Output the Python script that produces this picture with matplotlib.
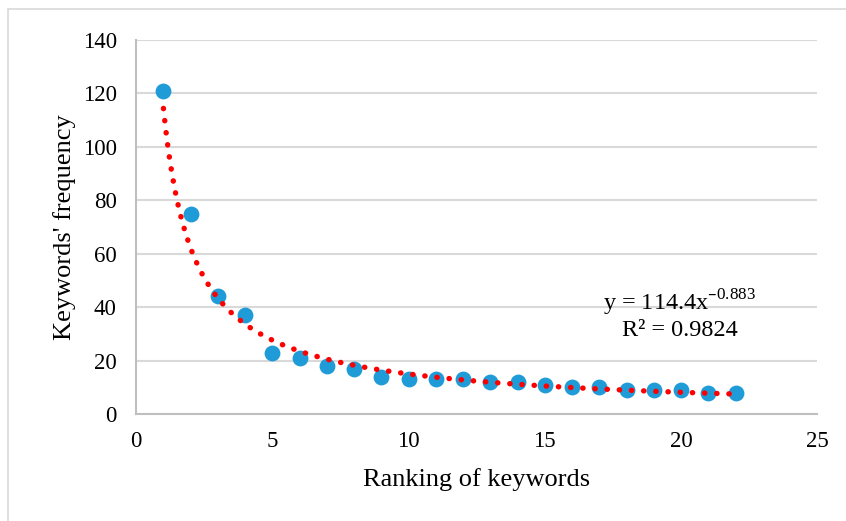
import numpy as np
import matplotlib
matplotlib.use('Agg')
import matplotlib.pyplot as plt
from matplotlib.patches import Rectangle

plt.rcParams['font.family'] = ['Liberation Serif', 'DejaVu Serif']

# 关键词排名与频次
ranking = [1, 2, 3, 4, 5, 6, 7, 8, 9, 10, 11, 12, 13, 14, 15, 16, 17, 18, 19, 20, 21, 22]
frequency = [121, 75, 44, 37, 23, 21, 18, 17, 14, 13, 13, 13, 12, 12, 11, 10, 10, 9, 9, 9, 8, 8]

# 幂函数趋势线 y = a * x^b
fit_a = 114.4
fit_b = -0.883
fit_r2 = 0.9824

fig = plt.figure(figsize=(8.46, 5.21), dpi=100)
ax = fig.add_axes([0.161, 0.2054, 0.805, 0.7178])

# 图表外框
fig.patches.append(Rectangle((8 / 846, -0.1), 1.2, 1 - 9 / 521 + 0.1, transform=fig.transFigure,
                             fill=False, edgecolor='#d9d9d9', linewidth=1.2))

ax.scatter(ranking, frequency, s=130, color='#1f9bd7', zorder=3, linewidths=0)

x_fit = np.linspace(1, 22, 400)
ax.plot(x_fit, fit_a * x_fit ** fit_b, color='#ff0000', linewidth=3.9,
        linestyle=(0, (0.05, 2.2)), dash_capstyle='round', zorder=4)

ax.text(19.95, 41.6, f'y = {fit_a}x' + r'$^{\mathregular{' + f'\u2013{abs(fit_b)}' + '}}$',
        fontsize=17.5, ha='center', va='center')
ax.text(19.95, 31.4, f'R² = {fit_r2}', fontsize=17.5, ha='center', va='center')

ax.set_xlim(0, 25)
ax.set_ylim(0, 140)
ax.set_xticks(range(0, 26, 5))
ax.set_yticks(range(0, 141, 20))
ax.tick_params(length=0, labelsize=16.5)
ax.tick_params(axis='y', pad=14)
ax.tick_params(axis='x', pad=12)

ax.grid(axis='y', color='#d9d9d9', linewidth=1.5)
ax.set_axisbelow(True)
for side in ['top', 'right']:
    ax.spines[side].set_visible(False)
for side in ['left', 'bottom']:
    ax.spines[side].set_color('#bfbfbf')
    ax.spines[side].set_linewidth(1.5)

ax.set_xlabel('Ranking of keywords', fontsize=19, labelpad=12)
ax.set_ylabel("Keywords' frequency", fontsize=19, labelpad=5)

fig.savefig('out.png', dpi=100)
